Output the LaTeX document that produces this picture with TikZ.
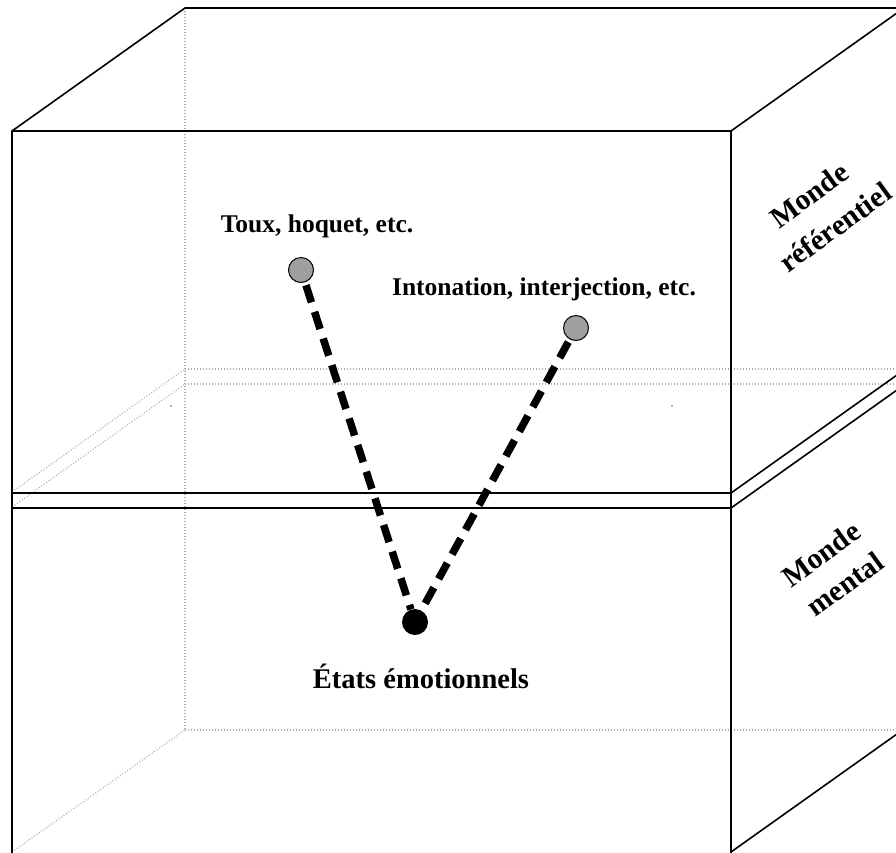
\documentclass[tikz,border=0pt]{standalone}
\usepackage{fontspec}
\setmainfont{Liberation Serif}
\begin{document}
\begin{tikzpicture}[x=1pt,y=-1pt,
  edge/.style={black,line width=1.6pt,line join=miter},
  hidden/.style={gray!65,line width=1.1pt,dash pattern=on 1.1pt off 1.9pt},
  link/.style={line width=7.5pt,dash pattern=on 18pt off 10pt,dash phase=-3pt},
  sound/.style={circle,draw=black,line width=1pt,fill=gray!75,minimum size=25pt,inner sep=0pt},
  core/.style={circle,fill=black,minimum size=26pt,inner sep=0pt},
  lbl/.style={font=\bfseries\fontsize{25.5}{30}\selectfont,inner sep=0pt,anchor=base},
  side/.style={font=\bfseries\fontsize{29.5}{32}\selectfont,rotate=36,inner sep=0pt}]
\useasboundingbox (0,0) rectangle (896,852);
\clip (0,0) rectangle (896,852);

% hidden back edges of the box and of the separating slab
\draw[hidden] (185,8) -- (185,730);
\draw[hidden] (185,369) -- (904,369);
\draw[hidden] (185,384) -- (904,384);
\draw[hidden] (185,730) -- (904,730);
\draw[hidden] (12,492) -- (185,369);
\draw[hidden] (12,507) -- (185,384);
\draw[hidden] (12,852) -- (185,730);

% visible edges: front face, top face, right face
\draw[edge] (12,860) -- (12,131) -- (185,8) -- (904,8) -- (731,131) -- (12,131);
\draw[edge] (731,131) -- (731,860);
% separating slab between the two worlds
\draw[edge] (12,493) -- (731,493) -- (904,370);
\draw[edge] (12,508) -- (731,508) -- (904,385);
\draw[edge] (731,852) -- (904,729);

% small specks on the slab
\fill[gray!80!black] (171,406) circle (0.9pt);
\fill[gray!80!black] (672,406) circle (0.9pt);

% points and their links
\node[sound] (toux) at (301,270) {};
\node[sound] (into) at (576,328) {};
\node[core] (etat) at (415,622) {};
\draw[link] (toux) -- (etat);
\draw[link] (into) -- (etat);

% labels
\node[lbl] (ltoux) at (317,232) {Toux, hoquet, etc.};
\node[lbl] (linto) at (544,295) {Intonation, interjection, etc.};
\node[lbl,font=\bfseries\fontsize{28.5}{32}\selectfont] (letat) at (421,688) {États émotionnels};
\node[side] (wref1) at (809,195) {Monde};
\node[side] (wref2) at (835,227) {référentiel};
\node[side] (wment1) at (821,554) {Monde};
\node[side] (wment2) at (845,584) {mental};
\end{tikzpicture}
\end{document}
